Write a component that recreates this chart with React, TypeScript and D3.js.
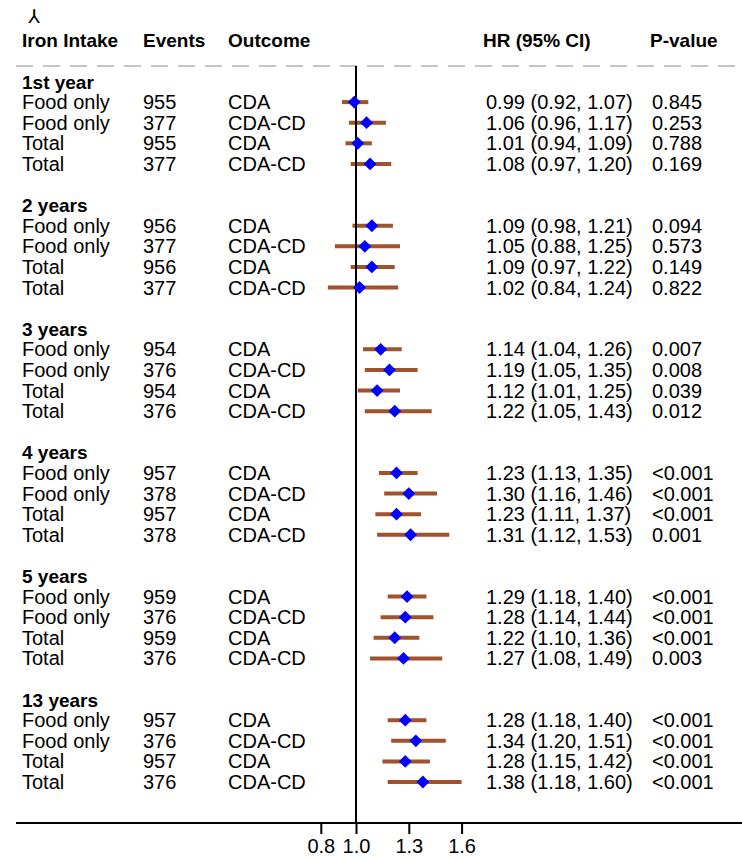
import * as d3 from 'd3';
import { useEffect, useRef } from 'react';

const groups = ['1st year', '2 years', '3 years', '4 years', '5 years', '13 years'];
const intake = ['Food only', 'Food only', 'Total', 'Total'];
const outcome = ['CDA', 'CDA-CD', 'CDA', 'CDA-CD'];
const events = [
  [955, 377, 955, 377],
  [956, 377, 956, 377],
  [954, 376, 954, 376],
  [957, 378, 957, 378],
  [959, 376, 959, 376],
  [957, 376, 957, 376],
];
const hr = [
  [0.99, 1.06, 1.01, 1.08],
  [1.09, 1.05, 1.09, 1.02],
  [1.14, 1.19, 1.12, 1.22],
  [1.23, 1.30, 1.23, 1.31],
  [1.29, 1.28, 1.22, 1.27],
  [1.28, 1.34, 1.28, 1.38],
];
const lower = [
  [0.92, 0.96, 0.94, 0.97],
  [0.98, 0.88, 0.97, 0.84],
  [1.04, 1.05, 1.01, 1.05],
  [1.13, 1.16, 1.11, 1.12],
  [1.18, 1.14, 1.10, 1.08],
  [1.18, 1.20, 1.15, 1.18],
];
const upper = [
  [1.07, 1.17, 1.09, 1.20],
  [1.21, 1.25, 1.22, 1.24],
  [1.26, 1.35, 1.25, 1.43],
  [1.35, 1.46, 1.37, 1.53],
  [1.40, 1.44, 1.36, 1.49],
  [1.40, 1.51, 1.42, 1.60],
];
const pvals = [
  ['0.845', '0.253', '0.788', '0.169'],
  ['0.094', '0.573', '0.149', '0.822'],
  ['0.007', '0.008', '0.039', '0.012'],
  ['<0.001', '<0.001', '<0.001', '0.001'],
  ['<0.001', '<0.001', '<0.001', '0.003'],
  ['<0.001', '<0.001', '<0.001', '<0.001'],
];
const xTicks = [0.8, 1.0, 1.3, 1.6];

const W = 742;
const H = 859;
const FONT = '"Liberation Sans", Arial, sans-serif';

export default function App() {
  const ref = useRef<SVGSVGElement>(null);

  useEffect(() => {
    const svg = d3.select(ref.current);
    svg.selectAll('*').remove();

    const x = d3.scaleLinear().domain([1.0, 1.6]).range([356, 461.6]);
    // row slot -> y centre (each group: title + 4 rows + blank)
    const y = d3.scaleLinear().domain([0, 34]).range([81.5, 782]);

    const rows: any[] = [];
    groups.forEach((g, gi) => {
      intake.forEach((it, ri) => {
        rows.push({
          slot: gi * 6 + ri + 1,
          intake: it,
          outcome: outcome[ri],
          events: events[gi][ri],
          hr: hr[gi][ri],
          lo: lower[gi][ri],
          hi: upper[gi][ri],
          p: pvals[gi][ri],
        });
      });
    });

    svg.append('text')
      .attr('x', 34)
      .attr('y', 23)
      .attr('text-anchor', 'middle')
      .attr('font-family', '"DejaVu Sans", sans-serif')
      .attr('font-size', 19)
      .attr('fill', '#000')
      .text('⅄');

    // header
    const header = [
      { t: 'Iron Intake', x: 22 },
      { t: 'Events', x: 143 },
      { t: 'Outcome', x: 228 },
      { t: 'HR (95% CI)', x: 483 },
      { t: 'P-value', x: 650 },
    ];
    svg.selectAll('.hdr')
      .data(header)
      .join('text')
      .attr('class', 'hdr')
      .attr('x', d => d.x)
      .attr('y', 47)
      .attr('font-family', FONT)
      .attr('font-weight', 'bold')
      .attr('font-size', 19)
      .text(d => d.t);

    svg.append('line')
      .attr('x1', 16).attr('x2', W)
      .attr('y1', 66).attr('y2', 66)
      .attr('stroke', '#c4c4c4')
      .attr('stroke-width', 2)
      .attr('stroke-dasharray', '17 10');

    // group titles
    svg.selectAll('.grp')
      .data(groups)
      .join('text')
      .attr('class', 'grp')
      .attr('x', 22)
      .attr('y', (_, i) => y(i * 6) + 7)
      .attr('font-family', FONT)
      .attr('font-weight', 'bold')
      .attr('font-size', 19)
      .text(d => d);

    const cols = [
      { x: 22, f: (d: any) => d.intake },
      { x: 143, f: (d: any) => d.events },
      { x: 228, f: (d: any) => d.outcome },
      { x: 486, f: (d: any) => `${d.hr.toFixed(2)} (${d.lo.toFixed(2)}, ${d.hi.toFixed(2)})` },
      { x: 652, f: (d: any) => d.p },
    ];
    cols.forEach((c, ci) => {
      svg.selectAll(`.col${ci}`)
        .data(rows)
        .join('text')
        .attr('class', `col${ci}`)
        .attr('x', c.x)
        .attr('y', d => y(d.slot) + 7)
        .attr('font-family', FONT)
        .attr('font-size', 20)
        .attr('fill', '#000')
        .text(c.f);
    });

    // CI bars
    svg.selectAll('.ci')
      .data(rows)
      .join('line')
      .attr('class', 'ci')
      .attr('x1', d => x(d.lo))
      .attr('x2', d => x(d.hi))
      .attr('y1', d => y(d.slot))
      .attr('y2', d => y(d.slot))
      .attr('stroke', '#a0522d')
      .attr('stroke-width', 4);

    // reference line at 1
    svg.append('line')
      .attr('x1', x(1)).attr('x2', x(1))
      .attr('y1', 66).attr('y2', 823)
      .attr('stroke', '#000')
      .attr('stroke-width', 2);

    // point estimates
    const diamond = d3.symbol().type(d3.symbolDiamond2).size(105);
    svg.selectAll('.pt')
      .data(rows)
      .join('path')
      .attr('class', 'pt')
      .attr('transform', d => `translate(${x(d.hr)},${y(d.slot)})`)
      .attr('d', diamond as any)
      .attr('fill', '#0000ff');

    // x axis
    svg.append('line')
      .attr('x1', 16).attr('x2', W)
      .attr('y1', 823).attr('y2', 823)
      .attr('stroke', '#000')
      .attr('stroke-width', 2);

    const ax = svg.append('g')
      .attr('transform', 'translate(0,823)')
      .call(
        d3.axisBottom(x)
          .tickValues(xTicks)
          .tickSize(11)
          .tickPadding(5)
          .tickFormat(d3.format('.1f'))
      );
    ax.select('.domain').remove();
    ax.selectAll('line').attr('stroke', '#000').attr('stroke-width', 2);
    ax.selectAll('text')
      .attr('font-family', FONT)
      .attr('font-size', 20)
      .attr('fill', '#000');
  }, []);

  return (
    <svg
      ref={ref}
      width={W}
      height={H}
      style={{ position: 'absolute', left: 0, top: 0, background: '#fff' }}
    />
  );
}
